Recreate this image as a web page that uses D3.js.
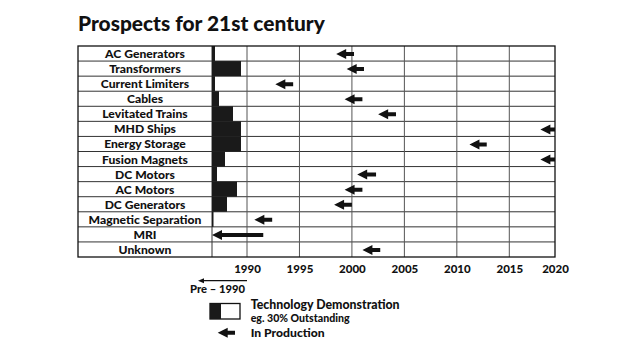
<!DOCTYPE html>
<html><head><meta charset="utf-8">
<script src="https://cdn.jsdelivr.net/npm/d3@7"></script>
<style>html,body{margin:0;padding:0;background:#fff;}svg{display:block;}</style>
</head><body>
<svg id="chart" width="640" height="356"></svg>
<script>
// ---------- data ----------
const title = "Prospects for 21st century";
const technologies = ["AC Generators","Transformers","Current Limiters","Cables","Levitated Trains","MHD Ships","Energy Storage","Fusion Magnets","DC Motors","AC Motors","DC Generators","Magnetic Separation","MRI","Unknown"];
// end year of technology-demonstration (black) bar, starting at pre-1990 edge
const demoEnd = [1986.8, 1989.4, 1986.8, 1987.2, 1988.6, 1989.4, 1989.4, 1987.8, 1987.0, 1989.0, 1988.0, 1986.65, null, null];
// "In production" arrow: tip (left) and tail (right) years
const prodTip  = [1998.5, 1999.5, 1992.7, 1999.3, 2002.5, 2018.4, 2011.2, 2018.4, 2000.5, 1999.3, 1998.3, 1990.7, 1986.5, 2001.0];
const prodTail = [2000.2, 2001.15, 1994.4, 2001.0, 2004.2, 2020.3, 2012.85, 2020.3, 2002.3, 2001.0, 2000.0, 1992.4, 1991.55, 2002.7];
const yearTicks = [1990, 1995, 2000, 2005, 2010, 2015, 2020];
const preStart = 1986.5;
const legendLabels = {pre: "Pre \u2013 1990", demo: "Technology Demonstration", demoSub: "eg. 30% Outstanding", prod: "In Production"};

// ---------- layout ----------
const svg = d3.select("#chart");
const F = "Lato, 'Open Sans', sans-serif";
const frameL = 78, divX = 212, plotTop = 46, plotBottom = 257;
const x = d3.scaleLinear().domain([preStart, 1990, 2015, 2020]).range([divX, 247, 509.3, 555]);
const frameR = x(2020);
const y = d3.scaleBand().domain(technologies).range([plotTop, plotBottom]);

function fit(sel, target){
  sel.each(function(){
    const el = d3.select(this);
    const fs = parseFloat(el.style("font-size"));
    const w = this.getComputedTextLength();
    el.style("font-size", (fs * target / w) + "px");
  });
}

// title
const t = svg.append("text").attr("x", frameL).attr("y", 31)
  .style("font-family", F).style("font-weight", 900).style("font-size", "19px")
  .attr("fill", "#111").text(title);
fit(t, 247);

// clip
svg.append("clipPath").attr("id","plotclip").append("rect")
  .attr("x", divX).attr("y", plotTop).attr("width", frameR - divX).attr("height", plotBottom - plotTop);

// horizontal row lines
svg.append("g").selectAll("line").data(technologies.slice(1)).join("line")
  .attr("x1", frameL).attr("x2", frameR)
  .attr("y1", d => y(d)).attr("y2", d => y(d))
  .attr("stroke", "#333").attr("stroke-width", 1);

// vertical year lines
svg.append("g").selectAll("line").data(yearTicks.filter(d => d < 2020)).join("line")
  .attr("x1", d => x(d)).attr("x2", d => x(d))
  .attr("y1", plotTop).attr("y2", plotBottom)
  .attr("stroke", "#555").attr("stroke-width", 1);
svg.append("line").attr("x1", divX).attr("x2", divX).attr("y1", plotTop).attr("y2", plotBottom)
  .attr("stroke", "#333").attr("stroke-width", 1);

// bars
const plot = svg.append("g").attr("clip-path", "url(#plotclip)");
plot.selectAll("rect.bar").data(technologies.map((d,i) => ({d, e: demoEnd[i]})).filter(o => o.e != null))
  .join("rect").attr("class","bar")
  .attr("x", x(preStart)).attr("y", o => y(o.d))
  .attr("width", o => x(o.e) - x(preStart)).attr("height", y.bandwidth())
  .attr("fill", "#1a1a1a");

// arrows
function arrowPath(x0, x1, cy, head, hh, sh){
  return `M${x0},${cy} L${x0+head},${cy-hh} L${x0+head},${cy-sh} L${x1},${cy-sh} L${x1},${cy+sh} L${x0+head},${cy+sh} L${x0+head},${cy+hh} Z`;
}
plot.selectAll("path.arrow").data(technologies.map((d,i) => ({d, a: prodTip[i], b: prodTail[i]})))
  .join("path").attr("class","arrow")
  .attr("d", o => arrowPath(x(o.a), x(o.b), y(o.d) + y.bandwidth()/2 + 0.5, 10, 5, 2))
  .attr("fill", "#111");

// frame
svg.append("rect").attr("x", frameL).attr("y", plotTop).attr("width", frameR - frameL).attr("height", plotBottom - plotTop)
  .attr("fill", "none").attr("stroke", "#111").attr("stroke-width", 1.3);

// row labels
const labels = svg.append("g").selectAll("text").data(technologies).join("text")
  .attr("x", (frameL + divX)/2).attr("y", d => y(d) + y.bandwidth()/2 + 4.5)
  .attr("text-anchor", "middle")
  .style("font-family", F).style("font-weight", 900).style("font-size", "12px")
  .attr("fill", "#111").text(d => d);
{
  const ref = labels.filter(d => d === "Magnetic Separation").node();
  const s = 12 * 113 / ref.getComputedTextLength();
  labels.style("font-size", s + "px");
}

// axis labels
const axisG = svg.append("g").attr("transform", `translate(0,${plotBottom})`);
const axis = d3.axisBottom(x).tickValues(yearTicks).tickFormat(d3.format("d")).tickSize(0).tickPadding(0);
axisG.call(axis);
axisG.select(".domain").remove();
axisG.selectAll("text").attr("y", 15.5).attr("dy", null)
  .style("font-family", F).style("font-weight", 900).style("font-size", "11px").attr("fill", "#111");
{
  const ref = axisG.select("text").node();
  const s = 11 * 26.7 / ref.getComputedTextLength();
  axisG.selectAll("text").style("font-size", s + "px");
}

// legend: pre-1990 arrow
const lx = x(1990);
svg.append("line").attr("x1", lx - 44).attr("x2", lx).attr("y1", 280.7).attr("y2", 280.7)
  .attr("stroke", "#111").attr("stroke-width", 1.3);
svg.append("path").attr("d", `M${lx-49},280.7 L${lx-43},278.2 L${lx-43},283.2 Z`).attr("fill", "#111");
const pre = svg.append("text").attr("x", 190).attr("y", 293)
  .style("font-family", F).style("font-weight", 900).style("font-size", "11px").attr("fill", "#111")
  .text(legendLabels.pre);
fit(pre, 55);

// legend: demo box
svg.append("rect").attr("x", 210).attr("y", 303.5).attr("width", 30).attr("height", 15.5)
  .attr("fill", "#fff").attr("stroke", "#111").attr("stroke-width", 1.3);
svg.append("rect").attr("x", 210).attr("y", 303.5).attr("width", 11).attr("height", 15.5).attr("fill", "#1a1a1a");
const l1 = svg.append("text").attr("x", 250.7).attr("y", 308.6)
  .style("font-family", F).style("font-weight", 900).style("font-size", "12px").attr("fill", "#111")
  .text(legendLabels.demo);
fit(l1, 149);
const l2 = svg.append("text").attr("x", 250.7).attr("y", 321.8)
  .style("font-family", F).style("font-weight", 900).style("font-size", "9px").attr("fill", "#111")
  .text(legendLabels.demoSub);
fit(l2, 99);
svg.append("path").attr("d", arrowPath(217.7, 235, 332.7, 10, 5, 2)).attr("fill", "#111");
const l3 = svg.append("text").attr("x", 250.7).attr("y", 336.8)
  .style("font-family", F).style("font-weight", 900).style("font-size", "12px").attr("fill", "#111")
  .text(legendLabels.prod);
fit(l3, 74);
</script>
</body></html>
